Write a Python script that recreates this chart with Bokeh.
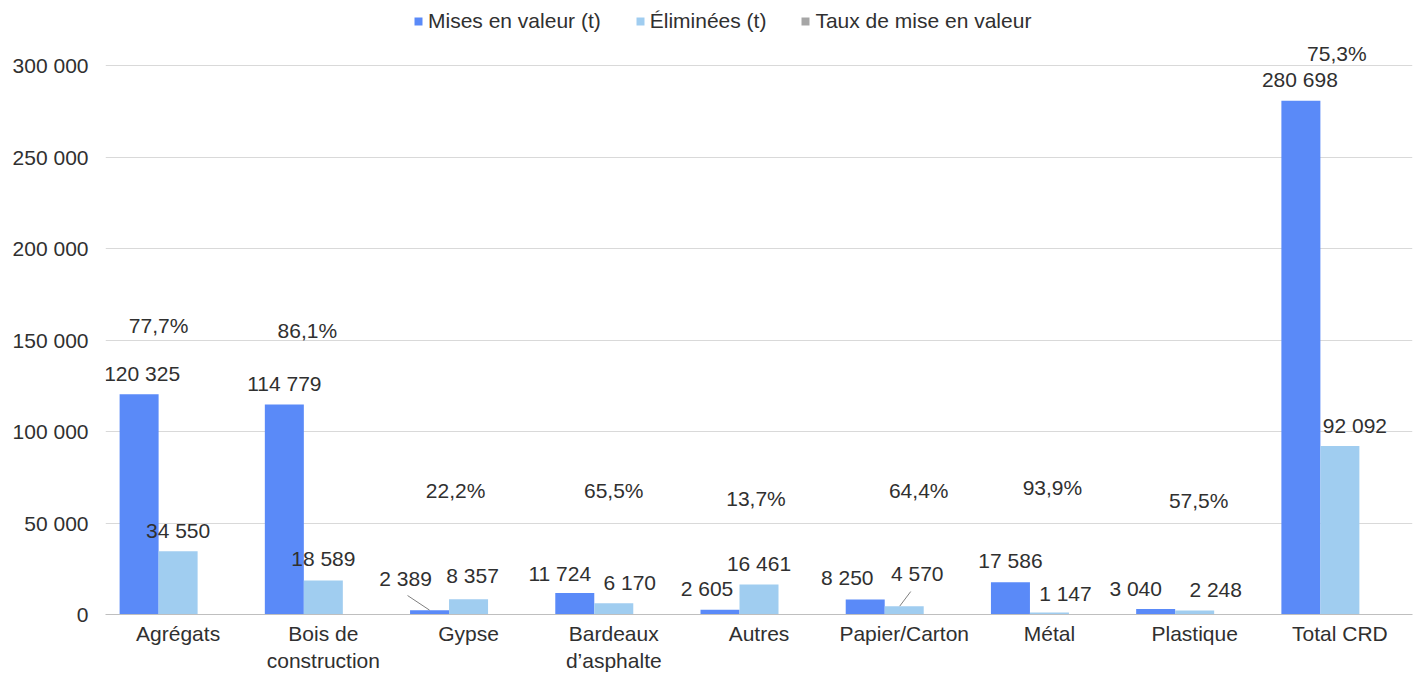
from bokeh.plotting import figure
from bokeh.models import (FactorRange, Range1d, FixedTicker, Legend, LegendItem,
                          ColumnDataSource, LabelSet)
from bokeh.transform import dodge
from bokeh.embed import file_html
from bokeh.resources import INLINE
from bokeh.core.properties import value

# ---------------- data ----------------
categories = ["Agrégats", "Bois de\nconstruction", "Gypse", "Bardeaux\nd’asphalte", "Autres",
              "Papier/Carton", "Métal", "Plastique", "Total CRD"]
mises = [120325, 114779, 2389, 11724, 2605, 8250, 17586, 3040, 280698]
elim = [34550, 18589, 8357, 6170, 16461, 4570, 1147, 2248, 92092]
taux = [77.7, 86.1, 22.2, 65.5, 13.7, 64.4, 93.9, 57.5, 75.3]
y_ticks = [0, 50000, 100000, 150000, 200000, 250000, 300000]
series_names = ["Mises en valeur (t)", "Éliminées (t)", "Taux de mise en valeur"]

# ---------------- label placement (px offsets) ----------------
mises_dx = [3, 0, -24, -15, -13, -18, 0, -20, -1]
mises_dy = [21, 21, 32, 20, 21, 22, 22, 20, 21]
elim_dx = [0, 0, 4, 16, 0, 13, 16, 21, 15]
elim_dy = [21, 22, 24, 21, 21, 33, 19, 21, 20]
pct_y = [158000, 155200, 67760, 67760, 63400, 67760, 69400, 62300, 306600]
pct_dx = [-19.5, -16, -13, 0, -3, 14.5, 3, 4, -3]

# ---------------- styles ----------------
C_MISES = "#5A8AF8"
C_ELIM = "#A0CDF0"
C_TAUX = "#A6A6A6"
TXT = "#303030"
FONT = "Liberation Sans"
FS = "21px"

FRAME_W = 1307
FRAME_H = 614
Y_END = FRAME_H * 300000 / 549
BW = 39 / (FRAME_W / 9)

def fmt(v):
    return f"{v:,}".replace(",", " ")

src = ColumnDataSource(dict(
    cat=categories, mises=mises, elim=elim,
    mises_lbl=[fmt(v) for v in mises], elim_lbl=[fmt(v) for v in elim],
    pct_lbl=[f"{t:.1f}".replace(".", ",") + "%" for t in taux],
    pct_y=pct_y, pct_dx=pct_dx,
    mises_dx=mises_dx, mises_dy=mises_dy, elim_dx=elim_dx, elim_dy=elim_dy,
))

p = figure(x_range=FactorRange(*categories, range_padding=0), y_range=Range1d(0, Y_END),
           width=1419, height=675, output_backend="svg", toolbar_location=None,
           min_border_left=105, min_border_right=7, min_border_top=0, min_border_bottom=61)
p.outline_line_color = None
p.background_fill_color = "white"
p.border_fill_color = "white"

r_m = p.vbar(x=dodge("cat", -BW, range=p.x_range), top="mises", width=BW, source=src,
             fill_color=C_MISES, line_color=None)
r_e = p.vbar(x=dodge("cat", 0, range=p.x_range), top="elim", width=BW, source=src,
             fill_color=C_ELIM, line_color=None)
r_t = p.vbar(x=[categories[0]], top=[0], width=BW, fill_color=C_TAUX, line_color=None)

# leader lines
px_per_cat = FRAME_W / 9
u_per_px = 300000 / 549
p.segment(x0=[2.5 - BW, 5.5 - 0.031],
          y0=[mises[2], elim[5]],
          x1=[2.5 - BW - 22 / px_per_cat, 5.5 + 6.5 / px_per_cat],
          y1=[mises[2] + 14.6 * u_per_px, elim[5] + 14.6 * u_per_px],
          line_color="#7F7F7F", line_width=1)

lbl_kw = dict(text_font=value(FONT), text_font_size=value(FS), text_color=value(TXT),
              text_align="center", text_baseline="middle", source=src)
p.add_layout(LabelSet(x=dodge("cat", -BW, range=p.x_range), y="mises", text="mises_lbl",
                      x_offset="mises_dx", y_offset="mises_dy", **lbl_kw))
p.add_layout(LabelSet(x=dodge("cat", 0, range=p.x_range), y="elim", text="elim_lbl",
                      x_offset="elim_dx", y_offset="elim_dy", **lbl_kw))
p.add_layout(LabelSet(x=dodge("cat", 0, range=p.x_range), y="pct_y", text="pct_lbl",
                      x_offset="pct_dx", **lbl_kw))

# axes
p.yaxis.ticker = FixedTicker(ticks=y_ticks)
p.yaxis.major_label_overrides = {t: fmt(t) for t in y_ticks}
p.yaxis.axis_line_color = None
p.yaxis.major_tick_line_color = None
p.yaxis.minor_tick_line_color = None
p.yaxis.major_tick_out = 0
p.yaxis.minor_tick_out = 0
p.yaxis.major_label_standoff = 17
p.yaxis.major_label_text_font = FONT
p.yaxis.major_label_text_font_size = FS
p.yaxis.major_label_text_color = TXT

p.xaxis.axis_line_color = "#BFBFBF"
p.xaxis.major_tick_line_color = None
p.xaxis.major_tick_out = 0
p.xaxis.minor_tick_out = 0
p.xaxis.major_label_standoff = 7
p.xaxis.major_label_text_font = FONT
p.xaxis.major_label_text_font_size = FS
p.xaxis.major_label_text_color = TXT

p.xgrid.grid_line_color = None
p.ygrid.grid_line_color = "#D9D9D9"
p.ygrid.grid_line_width = 1

legend = Legend(items=[LegendItem(label=series_names[0], renderers=[r_m]),
                       LegendItem(label=series_names[1], renderers=[r_e]),
                       LegendItem(label=series_names[2], renderers=[r_t])],
                location=(308, 581), orientation="horizontal",
                glyph_width=10, glyph_height=10, label_standoff=5, spacing=34,
                padding=0, margin=0, border_line_color=None, background_fill_alpha=0,
                label_text_font=FONT, label_text_font_size=FS, label_text_color=TXT)
p.add_layout(legend)

open("out.html", "w").write(file_html(p, INLINE))
